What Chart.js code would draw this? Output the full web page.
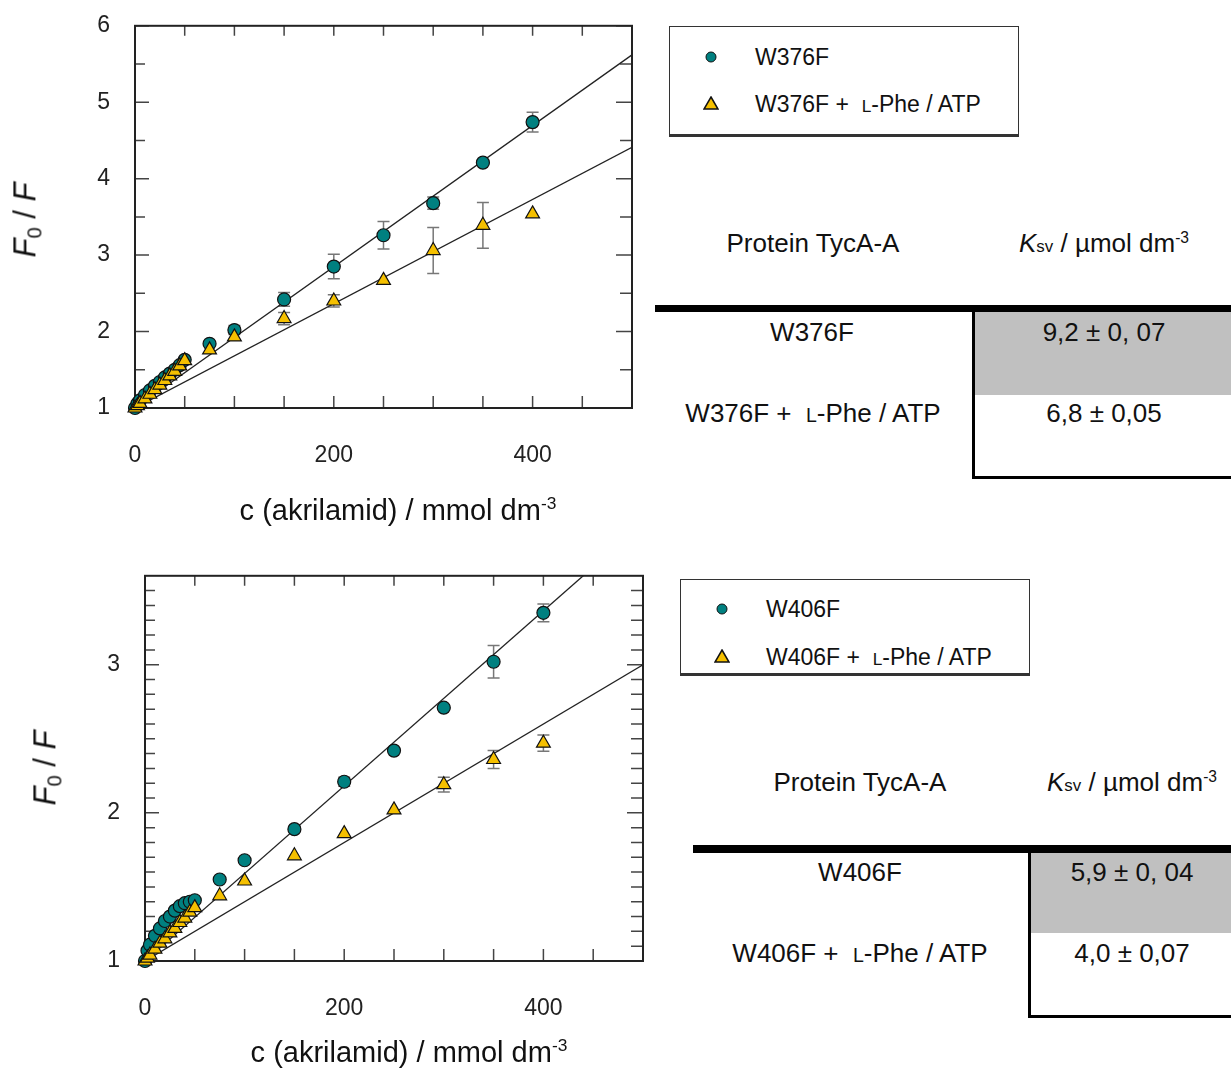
<!DOCTYPE html>
<html lang="hr">
<head>
<meta charset="utf-8">
<title>Stern-Volmer - akrilamid</title>
<script src="https://cdn.jsdelivr.net/npm/chart.js@4.4.0/dist/chart.umd.min.js"></script>
<style>
  body { margin: 0; background: #fff; font-family: "Liberation Sans", Arial, sans-serif; color: #111; }
  #page { position: relative; width: 1231px; height: 1068px; overflow: hidden; }
  canvas { position: absolute; left: 0; }
  .t { position: absolute; white-space: nowrap; transform: translate(-50%, -50%); line-height: 1; }
  .tl { position: absolute; white-space: nowrap; transform: translate(0, -50%); line-height: 1; }
  .ytitle { position: absolute; white-space: nowrap; transform: translate(-50%, -50%) rotate(-90deg); font-size: 31px; line-height: 1; }
  .xtitle { font-size: 29px; }
  .legend { position: absolute; border: 1.5px solid #333; border-bottom-width: 3px; box-sizing: border-box; }
  .dot { position: absolute; width: 11px; height: 11px; border-radius: 50%; background: #008080; border: 1.5px solid #111; box-sizing: border-box; transform: translate(-50%, -50%); }
  .tri { position: absolute; transform: translate(-50%, -50%); }
  .line { position: absolute; background: #000; }
  .gray { position: absolute; background: #c0c0c0; }
  .lg { font-size: 23px; }
  .tb { font-size: 26px; }
  .sc { font-size: 0.75em; }
  sup { font-size: 0.6em; vertical-align: 0.6em; }
  sub { font-size: 0.65em; vertical-align: -0.3em; }
</style>
</head>
<body>
<div id="page">
  <canvas id="top" width="660" height="513" style="top:-13px"></canvas>
  <canvas id="bottom" width="660" height="513" style="top:537px"></canvas>

  <!-- axis titles, top chart -->
  <div class="ytitle" style="left:27px; top:220px"><i>F</i><sub>0</sub> / <i>F</i></div>
  <div class="t xtitle" style="left:398px; top:510px">c (akrilamid) / mmol dm<sup>-3</sup></div>
  <!-- axis titles, bottom chart -->
  <div class="ytitle" style="left:47px; top:768px"><i>F</i><sub>0</sub> / <i>F</i></div>
  <div class="t xtitle" style="left:409px; top:1052px">c (akrilamid) / mmol dm<sup>-3</sup></div>

  <!-- legend, top -->
  <div class="legend" style="left:669px; top:26px; width:350px; height:111px"></div>
  <div class="dot" style="left:711px; top:57px"></div>
  <div class="tl lg" style="left:755px; top:57px">W376F</div>
  <svg class="tri" style="left:711px; top:103px" width="16" height="14" viewBox="0 0 16 14"><polygon points="8,1 15,13 1,13" fill="#f5c000" stroke="#111" stroke-width="1.5"/></svg>
  <div class="tl lg" style="left:755px; top:104px">W376F +&nbsp; <span class="sc">L</span>-Phe / ATP</div>

  <!-- table, top -->
  <div class="t tb" style="left:813px; top:243px">Protein TycA-A</div>
  <div class="t tb" style="left:1104px; top:243px"><i>K</i><span style="font-size:0.65em">sv</span> / µmol dm<sup>-3</sup></div>
  <div class="line" style="left:655px; top:305px; width:576px; height:7px"></div>
  <div class="gray" style="left:975px; top:312px; width:256px; height:83px"></div>
  <div class="line" style="left:972px; top:312px; width:3px; height:167px"></div>
  <div class="line" style="left:972px; top:476px; width:259px; height:3px"></div>
  <div class="t tb" style="left:812px; top:332px">W376F</div>
  <div class="t tb" style="left:1104px; top:332px">9,2 ± 0, 07</div>
  <div class="t tb" style="left:813px; top:413px">W376F +&nbsp; <span class="sc">L</span>-Phe / ATP</div>
  <div class="t tb" style="left:1104px; top:413px">6,8 ± 0,05</div>

  <!-- legend, bottom -->
  <div class="legend" style="left:680px; top:579px; width:350px; height:97px"></div>
  <div class="dot" style="left:722px; top:609px"></div>
  <div class="tl lg" style="left:766px; top:609px">W406F</div>
  <svg class="tri" style="left:722px; top:656px" width="16" height="14" viewBox="0 0 16 14"><polygon points="8,1 15,13 1,13" fill="#f5c000" stroke="#111" stroke-width="1.5"/></svg>
  <div class="tl lg" style="left:766px; top:657px">W406F +&nbsp; <span class="sc">L</span>-Phe / ATP</div>

  <!-- table, bottom -->
  <div class="t tb" style="left:860px; top:782px">Protein TycA-A</div>
  <div class="t tb" style="left:1132px; top:782px"><i>K</i><span style="font-size:0.65em">sv</span> / µmol dm<sup>-3</sup></div>
  <div class="line" style="left:693px; top:845px; width:538px; height:8px"></div>
  <div class="gray" style="left:1031px; top:853px; width:200px; height:80px"></div>
  <div class="line" style="left:1028px; top:853px; width:3px; height:164px"></div>
  <div class="line" style="left:1028px; top:1015px; width:203px; height:3px"></div>
  <div class="t tb" style="left:860px; top:872px">W406F</div>
  <div class="t tb" style="left:1132px; top:872px">5,9 ± 0, 04</div>
  <div class="t tb" style="left:860px; top:953px">W406F +&nbsp; <span class="sc">L</span>-Phe / ATP</div>
  <div class="t tb" style="left:1132px; top:953px">4,0 ± 0,07</div>
</div>

<script>
// acrylamide concentration, mmol dm-3
const conc = [0, 2.5, 5, 10, 15, 20, 25, 30, 35, 40, 45, 50, 75, 100, 150, 200, 250, 300, 350, 400];

// W376F panel (F0/F)
const w376f     = [1.00, 1.06, 1.10, 1.17, 1.23, 1.29, 1.34, 1.40, 1.45, 1.50, 1.56, 1.63, 1.84, 2.02, 2.42, 2.85, 3.26, 3.68, 4.21, 4.74];
const w376fErr  = [0.01, 0.01, 0.01, 0.01, 0.01, 0.01, 0.01, 0.01, 0.02, 0.02, 0.02, 0.03, 0.04, 0.06, 0.09, 0.16, 0.18, 0.08, 0.05, 0.13];
const w376fPhe  = [1.00, 1.03, 1.06, 1.12, 1.18, 1.24, 1.30, 1.36, 1.42, 1.48, 1.55, 1.62, 1.76, 1.93, 2.17, 2.40, 2.67, 3.06, 3.39, 3.54];
const w376fPheErr = [0.01, 0.01, 0.01, 0.01, 0.01, 0.01, 0.01, 0.01, 0.02, 0.02, 0.02, 0.02, 0.03, 0.03, 0.08, 0.08, 0.05, 0.30, 0.30, 0.04];
const fitW376f    = [{x: 0, y: 1}, {x: 500, y: 5.62}];
const fitW376fPhe = [{x: 0, y: 1}, {x: 500, y: 4.41}];

// W406F panel (F0/F)
const w406f     = [1.00, 1.07, 1.11, 1.17, 1.22, 1.27, 1.30, 1.34, 1.37, 1.39, 1.40, 1.41, 1.55, 1.68, 1.89, 2.21, 2.42, 2.71, 3.02, 3.35];
const w406fErr  = [0.01, 0.01, 0.01, 0.01, 0.01, 0.01, 0.01, 0.01, 0.01, 0.01, 0.01, 0.02, 0.02, 0.02, 0.02, 0.03, 0.02, 0.02, 0.11, 0.06];
const w406fPhe  = [1.00, 1.02, 1.04, 1.08, 1.12, 1.15, 1.19, 1.22, 1.26, 1.29, 1.33, 1.36, 1.44, 1.54, 1.71, 1.86, 2.02, 2.19, 2.36, 2.47];
const w406fPheErr = [0.01, 0.01, 0.01, 0.01, 0.01, 0.01, 0.01, 0.01, 0.01, 0.01, 0.01, 0.01, 0.02, 0.02, 0.02, 0.02, 0.02, 0.05, 0.06, 0.055];
const fitW406f    = [{x: 0, y: 1}, {x: 440, y: 3.6}];
const fitW406fPhe = [{x: 0, y: 1}, {x: 500, y: 3.0}];

// axis ticks
const xTickMarks = [0, 50, 100, 150, 200, 250, 300, 350, 400, 450, 500];
const xTickLabels = [0, 200, 400];
const yTickMarksTop = [1, 1.5, 2, 2.5, 3, 3.5, 4, 4.5, 5, 5.5, 6];
const yTickLabelsTop = [1, 2, 3, 4, 5, 6];
const yTickMarksBottom = [1, 1.1, 1.2, 1.3, 1.4, 1.5, 1.6, 1.7, 1.8, 1.9, 2, 2.1, 2.2, 2.3, 2.4, 2.5, 2.6, 2.7, 2.8, 2.9, 3, 3.1, 3.2, 3.3, 3.4, 3.5];
const yTickLabelsBottom = [1, 2, 3];

Chart.defaults.font.family = '"Liberation Sans", Arial, sans-serif';
Chart.defaults.color = '#222';

const pts = (ys) => conc.map((c, i) => ({x: c, y: ys[i]}));

// frame with inward ticks, then error bars, all under the markers
const framePlugin = {
  id: 'frame',
  beforeDatasetsDraw(chart, args, opts) {
    const {ctx, chartArea: a, scales: {x, y}} = chart;
    ctx.save();
    ctx.strokeStyle = '#444';
    ctx.lineWidth = 1.5;
    ctx.beginPath();
    opts.xMarks.forEach(v => {
      const px = x.getPixelForValue(v);
      ctx.moveTo(px, a.bottom); ctx.lineTo(px, a.bottom - 12);
      ctx.moveTo(px, a.top); ctx.lineTo(px, a.top + 10);
    });
    opts.yMarks.forEach(v => {
      const py = y.getPixelForValue(v);
      const major = opts.yLabels.includes(v);
      ctx.moveTo(a.left, py); ctx.lineTo(a.left + (major ? 14 : 10), py);
      ctx.moveTo(a.right, py); ctx.lineTo(a.right - (major ? 16 : 12), py);
    });
    ctx.stroke();
    ctx.strokeStyle = '#222';
    ctx.lineWidth = 2;
    ctx.strokeRect(a.left, a.top, a.right - a.left, a.bottom - a.top);

    // error bars
    ctx.strokeStyle = '#777';
    ctx.lineWidth = 1.5;
    chart.data.datasets.forEach(ds => {
      if (!ds.errors) return;
      ds.data.forEach((p, i) => {
        const e = ds.errors[i];
        const px = x.getPixelForValue(p.x);
        const y1 = y.getPixelForValue(p.y + e);
        const y2 = y.getPixelForValue(p.y - e);
        if (y2 - y1 < 8) return;
        ctx.beginPath();
        ctx.moveTo(px, y1); ctx.lineTo(px, y2);
        ctx.moveTo(px - 6, y1); ctx.lineTo(px + 6, y1);
        ctx.moveTo(px - 6, y2); ctx.lineTo(px + 6, y2);
        ctx.stroke();
      });
    });
    ctx.restore();
  }
};

function makeChart(id, circles, circleErr, triangles, triErr, fitC, fitT, yMax, yMarks, yLabels, pad) {
  return new Chart(document.getElementById(id), {
    type: 'scatter',
    data: {
      datasets: [
        {data: pts(triangles), errors: triErr, pointStyle: 'triangle', pointRadius: 8,
         backgroundColor: '#f5c000', borderColor: '#111', borderWidth: 1.2, order: 1, clip: false},
        {data: pts(circles), errors: circleErr, pointStyle: 'circle', pointRadius: 6.5,
         backgroundColor: '#008080', borderColor: '#111', borderWidth: 1.2, order: 2, clip: false},
        {data: fitC, showLine: true, pointRadius: 0, borderColor: '#222', borderWidth: 1.3, order: 3},
        {data: fitT, showLine: true, pointRadius: 0, borderColor: '#222', borderWidth: 1.3, order: 3}
      ]
    },
    options: {
      responsive: false,
      animation: false,
      devicePixelRatio: 1,
      layout: {padding: pad},
      plugins: {
        legend: {display: false},
        tooltip: {enabled: false},
        frame: {xMarks: xTickMarks, yMarks: yMarks, yLabels: yLabels}
      },
      scales: {
        x: {
          type: 'linear', min: 0, max: 500,
          afterBuildTicks: s => { s.ticks = xTickLabels.map(v => ({value: v})); },
          afterFit: s => { s.height = 80; },
          ticks: {font: {size: 23}, padding: 34, maxRotation: 0, autoSkip: false},
          grid: {display: false, drawTicks: false},
          border: {display: false}
        },
        y: {
          type: 'linear', min: 1, max: yMax,
          afterBuildTicks: s => { s.ticks = yLabels.map(v => ({value: v})); },
          afterFit: s => { s.width = 90; },
          ticks: {font: {size: 23}, padding: 25, autoSkip: false},
          grid: {display: false, drawTicks: false},
          border: {display: false}
        }
      }
    },
    plugins: [framePlugin]
  });
}

makeChart('top', w376f, w376fErr, w376fPhe, w376fPheErr, fitW376f, fitW376fPhe,
  6, yTickMarksTop, yTickLabelsTop, {left: 45, top: 12, right: 28, bottom: 12});
makeChart('bottom', w406f, w406fErr, w406fPhe, w406fPheErr, fitW406f, fitW406fPhe,
  3.6, yTickMarksBottom, yTickLabelsBottom, {left: 55, top: 14, right: 17, bottom: 9});
</script>
</body>
</html>
